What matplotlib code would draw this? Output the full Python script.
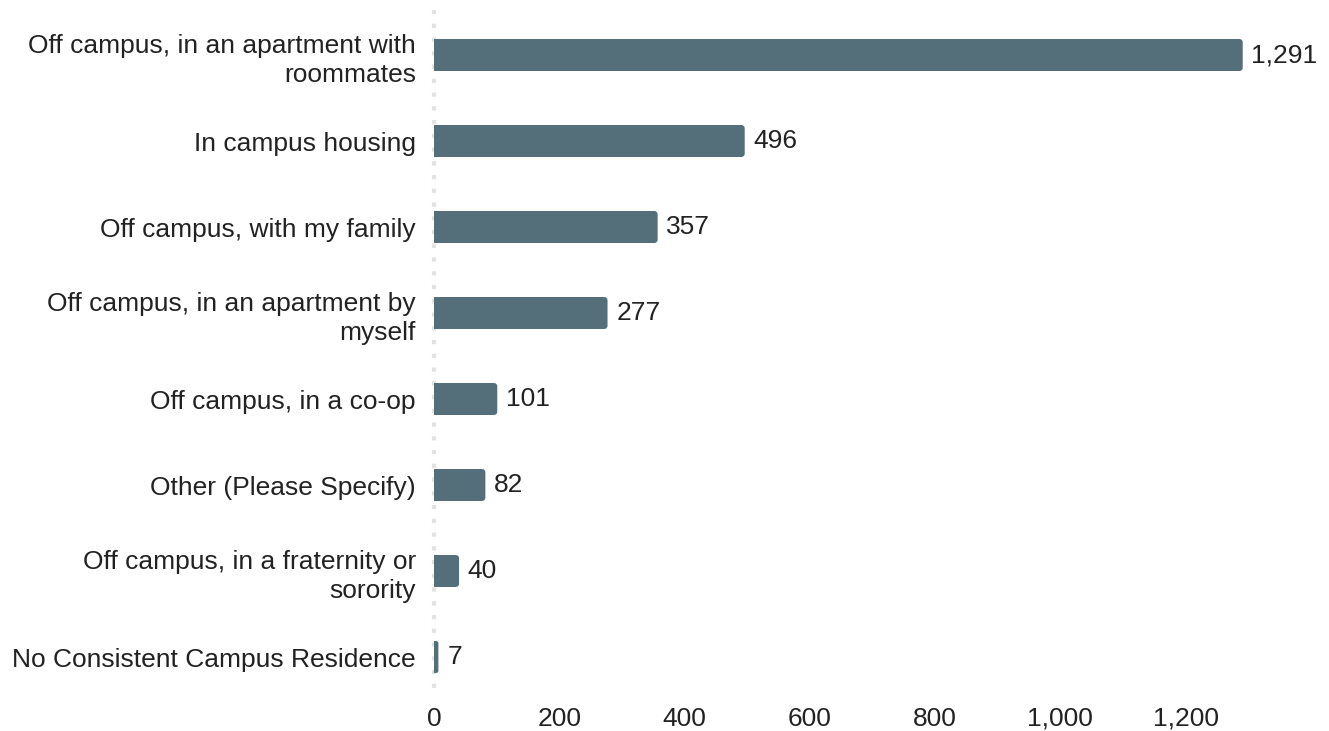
#!/usr/bin/env python3
"""housing_bars.py"""

import matplotlib

matplotlib.use("Agg")
import matplotlib.pyplot as plt
from matplotlib.patches import FancyBboxPatch
from matplotlib.ticker import FuncFormatter

categories = [
    "Off campus, in an apartment with\nroommates",
    "In campus housing",
    "Off campus, with my family",
    "Off campus, in an apartment by\nmyself",
    "Off campus, in a co-op",
    "Other (Please Specify)",
    "Off campus, in a fraternity or\nsorority",
    "No Consistent Campus Residence",
]
counts = [1291, 496, 357, 277, 101, 82, 40, 7]
xticks = [0, 200, 400, 600, 800, 1000, 1200]

BAR_COLOR = "#546e7a"
TEXT_COLOR = "#222222"
FS = 19


def plot(ax: plt.Axes):
    ypos = list(range(len(categories)))
    height = 0.37
    radius = 5.0  # data units along x
    aspect = (4.0 / 86) / (4.0 / 0.627)

    for y, v in zip(ypos, counts):
        r = min(radius, v / 2)
        ax.barh(y, max(v - r, 0), height=height, color=BAR_COLOR, linewidth=0)
        patch = FancyBboxPatch(
            (0, y - height / 2),
            v,
            height,
            boxstyle=f"round,pad=0,rounding_size={r}",
            mutation_aspect=aspect,
            facecolor=BAR_COLOR,
            edgecolor="none",
        )
        ax.add_patch(patch)
        ax.text(
            v + 14,
            y,
            f"{v:,}",
            va="center",
            ha="left",
            fontsize=FS,
            color=TEXT_COLOR,
        )

    ax.plot([0, 0], [-0.52, 7.4], color="#e2e2e2", linewidth=3.0,
            linestyle=(0, (1.0, 2.3)), zorder=0, solid_capstyle="butt",
            clip_on=False)

    ax.set_yticks(ypos)
    ax.set_yticklabels(categories, fontsize=FS, color=TEXT_COLOR, ha="right",
                       linespacing=1.3)
    ax.set_ylim(len(categories) - 0.5, -0.5)
    ax.set_xlim(0, 1400)
    ax.set_xticks(xticks)
    ax.xaxis.set_major_formatter(FuncFormatter(lambda v, p: f"{int(v):,}"))
    ax.tick_params(axis="x", labelsize=FS, labelcolor=TEXT_COLOR, length=0, pad=5)
    ax.tick_params(axis="y", length=0, pad=13)
    for s in ax.spines.values():
        s.set_visible(False)


def main():
    plt.rcParams["font.family"] = ["Liberation Sans", "DejaVu Sans"]
    fig = plt.figure(figsize=(13.29, 7.31), dpi=100)
    ax = fig.add_axes([434 / 1329, 1 - 700 / 731, (1311 - 434) / 1329, 688 / 731])
    plot(ax)
    fig.savefig("out.png", dpi=100, facecolor="white")


if __name__ == "__main__":
    main()
